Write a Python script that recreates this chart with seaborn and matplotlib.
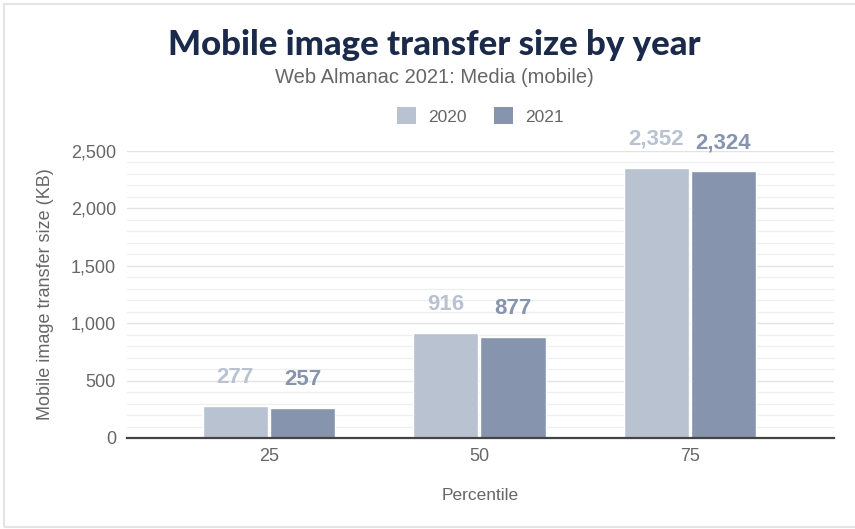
import pandas as pd
import seaborn as sns
import matplotlib.pyplot as plt
from matplotlib.patches import Patch, Rectangle
from matplotlib.ticker import MultipleLocator, FuncFormatter

# Chart data
percentiles = ["25", "50", "75"]
years = ["2020", "2021"]
size_2020 = [277, 916, 2352]
size_2021 = [257, 877, 2324]
year_colors = {"2020": "#b8c2d1", "2021": "#8794ad"}

df = pd.DataFrame({
    "Percentile": percentiles * 2,
    "Year": [years[0]] * 3 + [years[1]] * 3,
    "Size": size_2020 + size_2021,
})

sns.set_style("white")
plt.rcParams["font.family"] = ["Liberation Sans", "DejaVu Sans"]

fig = plt.figure(figsize=(8.55, 5.29), dpi=100)
ax = fig.add_axes([127 / 855, 1 - 438 / 529, 707 / 855, 287 / 529])

sns.barplot(data=df, x="Percentile", y="Size", hue="Year", palette=year_colors,
            width=0.64, gap=0.03, saturation=1, legend=False, ax=ax)

ax.set_ylim(0, 2500)
ax.set_xlim(-0.675, 2.685)
ax.yaxis.set_major_locator(MultipleLocator(500))
ax.yaxis.set_minor_locator(MultipleLocator(100))
ax.yaxis.set_major_formatter(FuncFormatter(lambda v, p: f"{int(v):,}"))
ax.grid(axis="y", which="major", color="#e3e3e3", linewidth=1)
ax.grid(axis="y", which="minor", color="#efefef", linewidth=0.9)
ax.set_axisbelow(True)
for s in ["left", "right", "top"]:
    ax.spines[s].set_visible(False)
ax.spines["bottom"].set_color("#444444")
ax.spines["bottom"].set_linewidth(1.6)
ax.tick_params(axis="both", which="both", length=0, labelsize=13, labelcolor="#666666")
ax.tick_params(axis="y", pad=8)
ax.tick_params(axis="x", pad=7)

ax.set_xlabel("Percentile", fontsize=12.5, color="#666666", labelpad=17)
ax.set_ylabel("Mobile image transfer size (KB)", fontsize=13, color="#666666", labelpad=12)

# value labels above bars
for cont, yr in zip(ax.containers, years):
    for bar in cont:
        h = bar.get_height()
        ax.annotate(f"{int(h):,}", (bar.get_x() + bar.get_width() / 2, h),
                    xytext=(0, 13), textcoords="offset points",
                    ha="center", va="bottom", fontsize=16, fontweight="bold",
                    color=year_colors[yr], annotation_clip=False)

fig.text(0.508, 1 - 45 / 529, "Mobile image transfer size by year", ha="center", va="center",
         fontsize=25, fontweight="black", color="#1b2a4a", family=["Lato", "DejaVu Sans"])
fig.text(0.508, 1 - 77 / 529, "Web Almanac 2021: Media (mobile)", ha="center", va="center",
         fontsize=14.5, color="#666666")

handles = [Patch(facecolor=year_colors[y], edgecolor="none", label=y) for y in years]
fig.legend(handles=handles, loc="center", bbox_to_anchor=(0.562, 1 - 116 / 529), ncol=2,
           frameon=False, handlelength=1.1, handleheight=1.1, handletextpad=0.7,
           columnspacing=1.6, prop={"size": 12.5}, labelcolor="#666666")

# light card border
fig.patches.append(Rectangle((4 / 855, 2 / 529), 1.1, 1 - 6 / 529, transform=fig.transFigure,
                             fill=False, edgecolor="#e4e4e4", linewidth=1.5))

fig.savefig("out.png", dpi=100, facecolor="white")
